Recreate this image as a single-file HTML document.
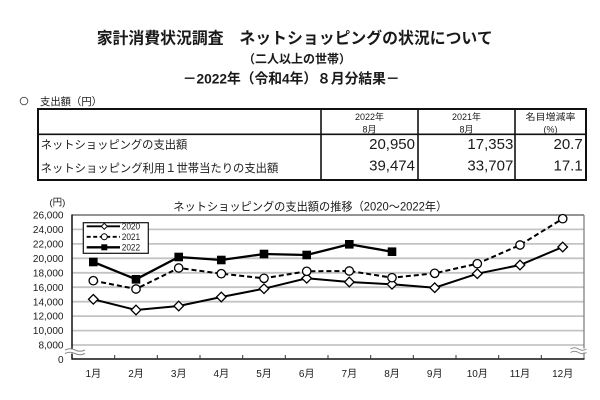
<!DOCTYPE html>
<html><head><meta charset="utf-8"><style>
html,body{margin:0;padding:0;background:#fff;}
svg{display:block;}
text{font-family:"Liberation Sans","Noto Sans CJK JP",sans-serif;fill:#1a1a1a;}
</style></head><body>
<svg width="600" height="400" viewBox="0 0 600 400" xmlns="http://www.w3.org/2000/svg">
<rect width="600" height="400" fill="#fff"/>
<!-- Titles -->
<text x="96.7" y="43.5" font-size="16" font-weight="bold" textLength="396" lengthAdjust="spacingAndGlyphs">家計消費状況調査　ネットショッピングの状況について</text>
<text x="243" y="62.8" font-size="12" font-weight="bold" textLength="108" lengthAdjust="spacingAndGlyphs">（二人以上の世帯）</text>
<text x="182.7" y="83.5" font-size="14" font-weight="bold" textLength="217" lengthAdjust="spacingAndGlyphs">－2022年（令和4年）８月分結果－</text>
<circle cx="24" cy="101" r="3.8" fill="none" stroke="#555" stroke-width="1"/>
<text x="40" y="105" font-size="10.5" textLength="62" lengthAdjust="spacingAndGlyphs">支出額（円）</text>

<!-- Table -->
<rect x="38" y="109" width="548" height="71" fill="none" stroke="#111" stroke-width="2"/>
<line x1="38" y1="134.3" x2="586" y2="134.3" stroke="#111" stroke-width="1.6"/>
<line x1="321" y1="109" x2="321" y2="180" stroke="#111" stroke-width="1.6"/>
<line x1="418" y1="109" x2="418" y2="180" stroke="#111" stroke-width="1.6"/>
<line x1="515" y1="109" x2="515" y2="180" stroke="#111" stroke-width="1.6"/>
<g font-size="9" text-anchor="middle" fill="#333">
<text x="369.5" y="120">2022年</text>
<text x="369.5" y="132.4">8月</text>
<text x="466.5" y="120">2021年</text>
<text x="466.5" y="132.4">8月</text>
<text x="550.5" y="120" textLength="50" lengthAdjust="spacingAndGlyphs">名目増減率</text>
<text x="550.5" y="132.4">(%)</text>
</g>
<text x="40.7" y="148.3" font-size="11.3" textLength="146.6" lengthAdjust="spacingAndGlyphs">ネットショッピングの支出額</text>
<text x="40.7" y="172" font-size="11.3" textLength="237.6" lengthAdjust="spacingAndGlyphs">ネットショッピング利用１世帯当たりの支出額</text>
<g font-size="15" text-anchor="end">
<text x="415" y="149">20,950</text>
<text x="513.3" y="149">17,353</text>
<text x="582.7" y="149">20.7</text>
<text x="415" y="170.7">39,474</text>
<text x="513.3" y="170.7">33,707</text>
<text x="582.7" y="170.7">17.1</text>
</g>

<!-- Chart title -->
<text x="49.5" y="205.5" font-size="9.5">(円)</text>
<text x="173.3" y="210.4" font-size="11.5" textLength="274" lengthAdjust="spacingAndGlyphs">ネットショッピングの支出額の推移（2020～2022年）</text>

<!-- Gridlines -->
<g stroke="#c4c4c4" stroke-width="1.8">
<line x1="72" y1="229.4" x2="584" y2="229.4"/>
<line x1="72" y1="243.9" x2="584" y2="243.9"/>
<line x1="72" y1="258.3" x2="584" y2="258.3"/>
<line x1="72" y1="272.8" x2="584" y2="272.8"/>
<line x1="72" y1="287.2" x2="584" y2="287.2"/>
<line x1="72" y1="301.7" x2="584" y2="301.7"/>
<line x1="72" y1="316.1" x2="584" y2="316.1"/>
<line x1="72" y1="330.6" x2="584" y2="330.6"/>
<line x1="72" y1="345" x2="584" y2="345"/>
</g>
<line x1="72" y1="215" x2="584" y2="215" stroke="#555" stroke-width="1.3"/>
<line x1="584" y1="215" x2="584" y2="359" stroke="#777" stroke-width="1.2"/>
<line x1="72" y1="214.5" x2="72" y2="359.5" stroke="#111" stroke-width="1.5"/>
<line x1="71.5" y1="359" x2="584.5" y2="359" stroke="#111" stroke-width="1.5"/>
<!-- ticks -->
<g stroke="#333" stroke-width="1">
<line x1="114.7" y1="355" x2="114.7" y2="359"/>
<line x1="157.3" y1="355" x2="157.3" y2="359"/>
<line x1="200" y1="355" x2="200" y2="359"/>
<line x1="242.7" y1="355" x2="242.7" y2="359"/>
<line x1="285.3" y1="355" x2="285.3" y2="359"/>
<line x1="328" y1="355" x2="328" y2="359"/>
<line x1="370.7" y1="355" x2="370.7" y2="359"/>
<line x1="413.3" y1="355" x2="413.3" y2="359"/>
<line x1="456" y1="355" x2="456" y2="359"/>
<line x1="498.7" y1="355" x2="498.7" y2="359"/>
<line x1="541.3" y1="355" x2="541.3" y2="359"/>
</g>
<!-- break marks -->
<rect x="66" y="349.5" width="20" height="4" fill="#fff"/>
<path d="M65,350 q5,-2.5 10,0 t10,0" fill="none" stroke="#888" stroke-width="1"/>
<path d="M65,353.5 q5,-2.5 10,0 t10,0" fill="none" stroke="#888" stroke-width="1"/>
<rect x="571" y="348.5" width="15" height="4" fill="#fff"/>
<path d="M570.5,349 q4,-2.5 8,0 t8,0" fill="none" stroke="#888" stroke-width="1"/>
<path d="M570.5,352.5 q4,-2.5 8,0 t8,0" fill="none" stroke="#888" stroke-width="1"/>

<!-- Y labels -->
<g font-size="10" text-anchor="end" fill="#222">
<text x="63.5" y="218.6">26,000</text>
<text x="63.5" y="233">24,000</text>
<text x="63.5" y="247.5">22,000</text>
<text x="63.5" y="261.9">20,000</text>
<text x="63.5" y="276.4">18,000</text>
<text x="63.5" y="290.8">16,000</text>
<text x="63.5" y="305.3">14,000</text>
<text x="63.5" y="319.7">12,000</text>
<text x="63.5" y="334.2">10,000</text>
<text x="63.5" y="348.6">8,000</text>
<text x="63.5" y="362.9">0</text>
</g>
<!-- X labels -->
<g font-size="10" text-anchor="middle" fill="#222">
<text x="93.3" y="377">1月</text>
<text x="136" y="377">2月</text>
<text x="178.7" y="377">3月</text>
<text x="221.3" y="377">4月</text>
<text x="264" y="377">5月</text>
<text x="306.7" y="377">6月</text>
<text x="349.3" y="377">7月</text>
<text x="392" y="377">8月</text>
<text x="434.7" y="377">9月</text>
<text x="477.3" y="377">10月</text>
<text x="520" y="377">11月</text>
<text x="562.7" y="377">12月</text>
</g>

<!-- Series 2020 -->
<polyline fill="none" stroke="#000" stroke-width="2" points="93.3,299.3 136,310 178.7,306 221.3,297 264,288.7 306.7,278.3 349.3,282 392,284.3 434.7,287.7 477.3,273.7 520,265 562.7,247"/>
<!-- Series 2021 -->
<polyline fill="none" stroke="#000" stroke-width="2" stroke-dasharray="5,3" points="93.3,280.7 136,289 178.7,268 221.3,273.7 264,278.3 306.7,271.3 349.3,271 392,277.7 434.7,273.3 477.3,263.7 520,245 562.7,218.7"/>
<!-- Series 2022 -->
<polyline fill="none" stroke="#000" stroke-width="2.3" points="93.3,262 136,279.3 178.7,257 221.3,260 264,254 306.7,255 349.3,244.3 392,251.7"/>

<!-- markers 2020 diamonds -->
<g fill="#fff" stroke="#000" stroke-width="1.3">
<path d="M93.3,294.5 l4.8,4.8 l-4.8,4.8 l-4.8,-4.8z"/>
<path d="M136,305.2 l4.8,4.8 l-4.8,4.8 l-4.8,-4.8z"/>
<path d="M178.7,301.2 l4.8,4.8 l-4.8,4.8 l-4.8,-4.8z"/>
<path d="M221.3,292.2 l4.8,4.8 l-4.8,4.8 l-4.8,-4.8z"/>
<path d="M264,283.9 l4.8,4.8 l-4.8,4.8 l-4.8,-4.8z"/>
<path d="M306.7,273.5 l4.8,4.8 l-4.8,4.8 l-4.8,-4.8z"/>
<path d="M349.3,277.2 l4.8,4.8 l-4.8,4.8 l-4.8,-4.8z"/>
<path d="M392,279.5 l4.8,4.8 l-4.8,4.8 l-4.8,-4.8z"/>
<path d="M434.7,282.9 l4.8,4.8 l-4.8,4.8 l-4.8,-4.8z"/>
<path d="M477.3,268.9 l4.8,4.8 l-4.8,4.8 l-4.8,-4.8z"/>
<path d="M520,260.2 l4.8,4.8 l-4.8,4.8 l-4.8,-4.8z"/>
<path d="M562.7,242.2 l4.8,4.8 l-4.8,4.8 l-4.8,-4.8z"/>
</g>
<!-- markers 2021 circles -->
<g fill="#fff" stroke="#000" stroke-width="1.3">
<circle cx="93.3" cy="280.7" r="4.2"/>
<circle cx="136" cy="289" r="4.2"/>
<circle cx="178.7" cy="268" r="4.2"/>
<circle cx="221.3" cy="273.7" r="4.2"/>
<circle cx="264" cy="278.3" r="4.2"/>
<circle cx="306.7" cy="271.3" r="4.2"/>
<circle cx="349.3" cy="271" r="4.2"/>
<circle cx="392" cy="277.7" r="4.2"/>
<circle cx="434.7" cy="273.3" r="4.2"/>
<circle cx="477.3" cy="263.7" r="4.2"/>
<circle cx="520" cy="245" r="4.2"/>
<circle cx="562.7" cy="218.7" r="4.2"/>
</g>
<!-- markers 2022 squares -->
<g fill="#000">
<rect x="89" y="257.7" width="8.6" height="8.6"/>
<rect x="131.7" y="275" width="8.6" height="8.6"/>
<rect x="174.4" y="252.7" width="8.6" height="8.6"/>
<rect x="217" y="255.7" width="8.6" height="8.6"/>
<rect x="259.7" y="249.7" width="8.6" height="8.6"/>
<rect x="302.4" y="250.7" width="8.6" height="8.6"/>
<rect x="345" y="240" width="8.6" height="8.6"/>
<rect x="387.7" y="247.4" width="8.6" height="8.6"/>
</g>

<!-- Legend -->
<rect x="83.3" y="222.7" width="65" height="30.6" fill="#fff" stroke="#111" stroke-width="1.2"/>
<line x1="86.7" y1="226.3" x2="120" y2="226.3" stroke="#000" stroke-width="1.8"/>
<path d="M104.3,223.3 l3,3 l-3,3 l-3,-3z" fill="#fff" stroke="#000" stroke-width="1"/>
<line x1="86.7" y1="236.8" x2="120" y2="236.8" stroke="#000" stroke-width="1.8" stroke-dasharray="4,2.5"/>
<circle cx="104.3" cy="236.8" r="3" fill="#fff" stroke="#000" stroke-width="1"/>
<line x1="86.7" y1="247.3" x2="120" y2="247.3" stroke="#000" stroke-width="2.4"/>
<rect x="101.3" y="244.3" width="6" height="6" fill="#000"/>
<g font-size="9.5" fill="#111">
<text x="121.7" y="229.6" textLength="18.5" lengthAdjust="spacingAndGlyphs">2020</text>
<text x="121.7" y="240.1" textLength="18.5" lengthAdjust="spacingAndGlyphs">2021</text>
<text x="121.7" y="250.6" textLength="18.5" lengthAdjust="spacingAndGlyphs">2022</text>
</g>
</svg>
</body></html>
